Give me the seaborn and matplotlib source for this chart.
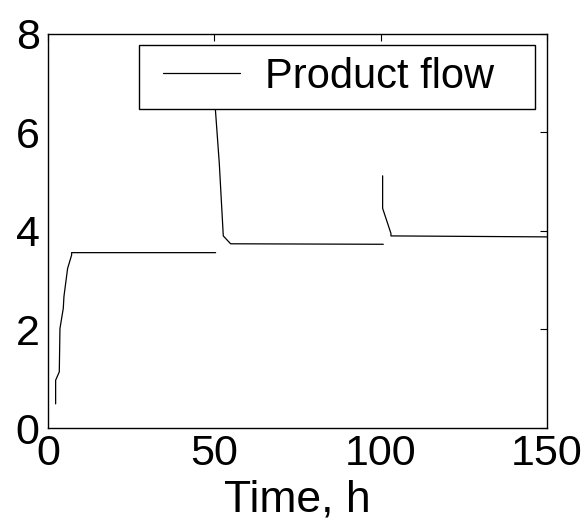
import matplotlib
matplotlib.use("Agg")
import matplotlib.pyplot as plt
from matplotlib.patches import Rectangle
import seaborn as sns
import pandas as pd

# Segment 1
t1 = [2.3, 2.3, 3.4, 3.6, 4.6, 4.8, 5.9, 7.1, 7.1, 50.4]
f1 = [0.49, 0.97, 1.14, 2.02, 2.43, 2.67, 3.24, 3.51, 3.56, 3.56]
# Segment 2
t2 = [50.2, 50.3, 51.5, 52.7, 54.9, 100.8]
f2 = [7.2, 6.49, 5.37, 3.90, 3.74, 3.73]
# Segment 3
t3 = [100.6, 100.6, 103.1, 103.1, 150.0]
f3 = [5.12, 4.46, 3.95, 3.90, 3.88]

sns.set_theme(style="white")
plt.rcParams['font.family'] = ['Liberation Sans', 'DejaVu Sans']
plt.rcParams['text.color'] = 'black'

fig = plt.figure(figsize=(5.88, 5.24), dpi=100)
ax = fig.add_axes([0.0816, 0.1832, 0.8486, 0.752])

segs = [(t1, f1, "Product flow"), (t2, f2, None), (t3, f3, None)]
for t, f, lab in segs:
    df = pd.DataFrame({"t": t, "f": f})
    sns.lineplot(data=df, x="t", y="f", ax=ax, sort=False, estimator=None,
                 color="black", linewidth=0.9, label=lab, legend=bool(lab))

ax.set_xlim(0, 150)
ax.set_ylim(0, 8)
ax.set_xticks([0, 50, 100, 150])
ax.set_yticks([0, 2, 4, 6, 8])
ax.set_xlabel("Time, h", fontsize=32, color="black", labelpad=4)
ax.set_ylabel("")
ax.tick_params(direction="in", length=5, width=0.8, top=True, right=True,
               labelsize=31, colors="black")
ax.tick_params(axis="x", pad=4.5)
ax.tick_params(axis="y", pad=6)
for s in ax.spines.values():
    s.set_color("black")
    s.set_linewidth(1.0)

# legend frame
ax.add_patch(Rectangle((0.182, 0.810), 0.794, 0.162, transform=ax.transAxes,
                       facecolor="white", edgecolor="black", linewidth=1.0,
                       zorder=4, clip_on=False))
leg = ax.legend(loc="center left", bbox_to_anchor=(0.2305, 0.891), fontsize=30,
                frameon=False, borderpad=0, borderaxespad=0,
                handlelength=1.85, handletextpad=0.6)
leg.set_zorder(5)
for txt in leg.get_texts():
    txt.set_color("black")

fig.savefig("out.png", dpi=100)
